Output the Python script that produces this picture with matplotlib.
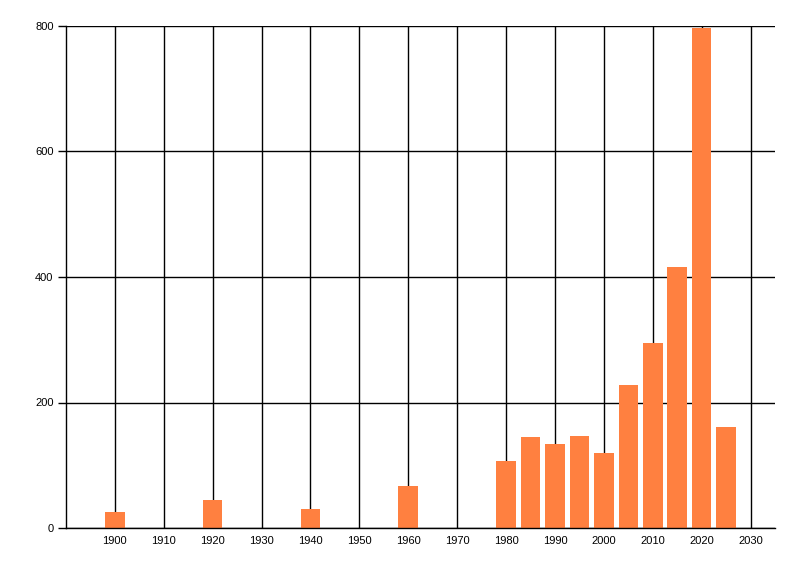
import matplotlib
matplotlib.use("Agg")
import matplotlib.pyplot as plt

# data
years = [1900, 1920, 1940, 1960, 1980, 1985, 1990, 1995, 2000, 2005, 2010, 2015, 2020, 2025]
counts = [26, 45, 31, 67, 106, 145, 134, 147, 120, 228, 295, 416, 797, 161]
x_ticks = list(range(1900, 2031, 10))
y_ticks = [0, 200, 400, 600, 800]

plt.rcParams['font.family'] = ['Liberation Sans', 'DejaVu Sans']

fig = plt.figure(figsize=(8, 5.76), dpi=100)
fig.patch.set_facecolor('white')
ax = fig.add_axes([66 / 800, 1 - 528 / 576, (775 - 66) / 800, (528 - 26) / 576])

ax.set_axisbelow(True)
ax.bar(years, counts, width=4, color='#FF8040', zorder=2)

ax.set_xlim(1890, 2035)
ax.set_ylim(0, 800)
ax.set_xticks(x_ticks)
ax.set_yticks(y_ticks)

# black grid, no top/right frame
ax.grid(True, color='black', linewidth=1.0)
for side in ['top', 'right']:
    ax.spines[side].set_visible(False)
for side in ['left', 'bottom']:
    ax.spines[side].set_color('black')
    ax.spines[side].set_linewidth(1.0)

ax.tick_params(axis='x', length=0, pad=6, labelsize=8, colors='black')
ax.tick_params(axis='y', length=6, width=1.0, pad=3, labelsize=8, colors='black')

fig.savefig('out.png', dpi=100)
